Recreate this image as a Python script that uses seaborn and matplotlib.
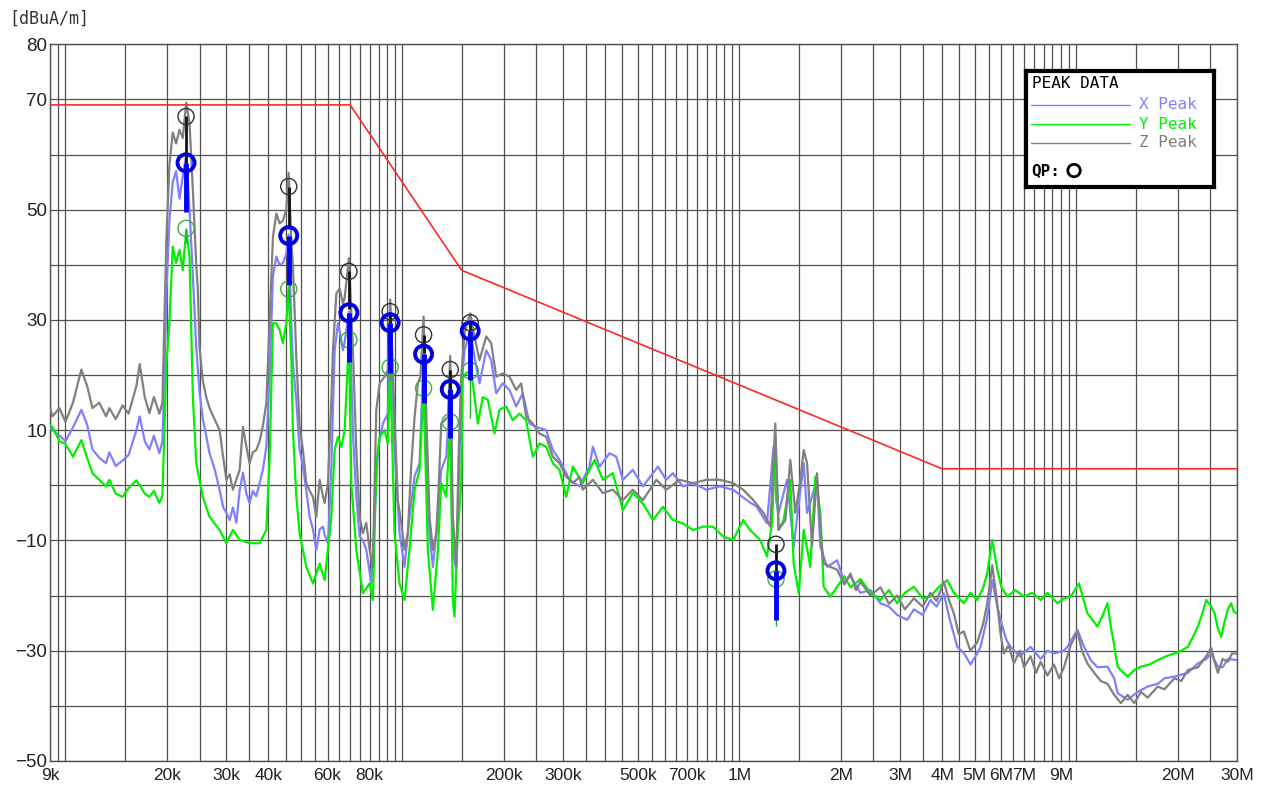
import matplotlib
matplotlib.use('Agg')
import matplotlib.pyplot as plt
import seaborn as sns
from matplotlib.ticker import FixedLocator, FixedFormatter, NullFormatter

# measured traces, (frequency kHz, level dBuA/m)
x_peak = [(9.0, 10.5), (9.15, 10.0), (9.6, 9.0), (10.0, 8.0), (10.53, 10.5), (11.15, 13.7), (11.6, 11), (12.03, 6.5),
          (12.6, 5), (13.2, 4.0), (13.5, 6), (14.1, 3.5), (14.78, 4.5), (15.4, 5.5), (16.24, 10), (16.61, 12.5),
          (17.2, 8), (17.75, 6.5), (18.3, 9), (19.01, 5.8), (19.4, 8), (19.67, 20), (19.94, 35), (20.35, 48),
          (20.82, 55), (21.3, 57), (21.8, 52), (22.3, 56), (22.83, 60), (23.35, 50), (23.89, 38), (24.45, 25),
          (25.0, 17), (25.57, 12), (26.17, 9), (26.77, 5.8), (27.7, 3), (28.68, -0.8), (29.4, -4), (30.04, -5),
          (30.72, -6.3), (31.42, -4), (32.15, -6.8), (32.89, -1), (33.64, 2.3), (34.44, -1.5), (35.2, -3.2),
          (36.0, -1), (36.85, -2), (37.7, 0.4), (38.6, 3), (39.47, 7), (40.37, 20), (41.29, 38), (42.26, 41.5),
          (43.22, 40), (44.2, 40.3), (45.24, 42), (45.96, 45.5), (46.81, 29.4), (47.33, 22), (48.44, 15.5),
          (49.55, 6.4), (50.69, 3.4), (51.88, -1), (53.07, -5.7), (54.28, -8), (55.55, -11.7), (56.82, -8),
          (58.12, -7.5), (58.8, -9), (60.14, -10.5), (61.55, 3.4), (62.95, 24.5), (64.39, 29.4), (65.14, 28),
          (66.63, 24.5), (67.4, 26), (69.4, 31.5), (70.55, 20), (71.33, 9.4), (72.99, -2), (74.66, -9.3),
          (76.36, -10), (78.15, -11.7), (80.88, -17.8), (82.72, -5.7), (84.61, 6.4), (87.55, 11.2), (90.55, 13),
          (92.05, 30), (94.8, 6.4), (98.1, -8.7), (101.5, -14.8), (105.0, -5.7), (108.7, 1.6), (112.5, 4),
          (115.6, 24), (119.0, -5.7), (123.2, -14.8), (127.5, -5.7), (130.4, 2.8), (135.0, 5.2), (138.7, 17.5),
          (141.2, -11.7), (144.5, -15.3), (147.0, 0.4), (149.5, 17.3), (152.9, 24.5), (159.0, 28), (163.7, 23.3),
          (169.4, 18.5), (177.4, 24.5), (183.5, 22.7), (189.9, 16.7), (198.6, 18.5), (207.9, 17.3), (217.7, 14.3),
          (227.7, 16.7), (238.4, 11.2), (249.5, 10.6), (267.2, 10), (279.6, 6.4), (292.7, 4.6), (313.4, 1),
          (335.6, -0.2), (359.3, 3.4), (367.5, 7), (384.8, 3.4), (412.0, 5.8), (431.3, 5.2), (451.2, 1),
          (483.1, 2.8), (517.5, -0.2), (573.6, 3.4), (606.8, 1), (635.0, 2.2), (680.2, -0.2), (728.6, 0.4),
          (798.9, -0.8), (875.3, -0.2), (958.9, -0.8), (1052, -2.7), (1127, -3.9), (1208, -6.9), (1264, 7),
          (1288, -3), (1308, -5), (1386, 1), (1450, -11.1), (1553, 4), (1589, -5), (1701, 1), (1740, -11.1),
          (1822, -14.8), (1951, -13.6), (2050, -17.5), (2138, -16.5), (2289, -19.5), (2450, -19), (2625, -21.4),
          (2780, -22), (2942, -23.5), (3151, -24.4), (3297, -22.5), (3500, -23.5), (3692, -20.8), (3850, -22),
          (4046, -19.6), (4200, -24), (4434, -29.3), (4650, -30.5), (4856, -32.5), (5084, -30.5), (5200, -29.3),
          (5444, -24), (5633, -17.2), (5830, -22), (5963, -24.4), (6200, -28), (6384, -29.3), (6800, -31),
          (7322, -29.3), (7843, -31.5), (8211, -30), (8589, -30.5), (9196, -30), (9412, -29.3), (10080, -26.2),
          (10500, -29), (11040, -31.7), (11560, -33), (12380, -32.9), (12960, -35), (13270, -37.7), (14210, -38.9),
          (15200, -37.5), (16300, -36.5), (17460, -36), (18270, -35), (19570, -34.7), (21450, -34), (22970, -32.3),
          (24310, -31.5), (25150, -30.5), (26330, -32.9), (27200, -33), (28190, -31.5), (30000, -31.7)]

y_peak = [(9.0, 11), (9.15, 10.6), (9.6, 8), (10.0, 7.5), (10.53, 5.2), (11.15, 8.2), (11.6, 5), (12.03, 2.2),
          (12.6, 1), (13.2, -0.2), (13.5, 1), (14.1, -1.5), (14.78, -2.1), (15.4, -0.5), (16.24, 0.9), (16.61, 0),
          (17.2, -1.5), (17.75, -2.1), (18.3, -1), (19.01, -3.2), (19.4, -2), (19.67, 10), (19.94, 22),
          (20.35, 29.4), (20.82, 43.3), (21.3, 40.3), (21.8, 42.7), (22.3, 39), (22.83, 46.3), (23.35, 41.5),
          (23.6, 29.4), (23.89, 16), (24.45, 4), (25.57, -2.1), (26.77, -5.7), (28.68, -8.1), (30.04, -10.5),
          (31.42, -8.1), (32.89, -9.9), (35.2, -10.5), (37.7, -10.5), (39.47, -8.1), (40.37, 5), (41.29, 29.4),
          (42.26, 29.4), (43.22, 28.2), (44.2, 25.8), (45.24, 29.4), (45.96, 36), (46.81, 23.3), (47.33, 10),
          (48.44, -2), (49.55, -8.7), (51.88, -14.8), (54.28, -17.8), (56.82, -14.2), (58.8, -17.2),
          (61.55, -5.7), (62.95, 6.4), (64.39, 8.8), (65.9, 7), (67.4, 10), (69.4, 26.4), (70.55, 0.4),
          (72.99, -11.7), (76.36, -19.6), (79.94, -17.8), (81.77, -20.8), (83.68, 3.4), (85.6, 8.8), (88.58, 10),
          (90.55, 7.6), (92.05, 21.4), (94.8, -8.7), (98.1, -17.8), (101.5, -20.8), (105.0, -11.7), (108.7, -0.8),
          (112.5, 2.8), (115.6, 17.6), (119.0, -11.7), (123.2, -22.6), (127.5, -11.7), (130.4, 0.4), (135.0, -2.1),
          (138.7, 11.5), (141.2, -20.8), (142.8, -23.8), (146.0, -8.7), (149.5, 0.4), (151.1, 19.7), (154.7, 20.3),
          (159.0, 20.8), (161.8, 18.5), (167.5, 11.2), (173.3, 16), (179.3, 15.5), (187.7, 9.4), (194.2, 13.7),
          (203.3, 14.3), (212.7, 11.8), (222.6, 13), (233.0, 11.8), (243.8, 5.2), (255.2, 7.6), (267.2, 7),
          (279.6, 4), (292.7, 2.8), (306.4, -2.1), (320.6, 3.4), (343.2, 0.4), (371.9, 4.6), (393.6, 1),
          (421.4, 2.2), (451.2, -4.5), (483.1, -1.4), (517.5, -3.3), (554.4, -6.3), (593.0, -3.9), (635.0, -6.3),
          (680.2, -6.9), (728.6, -8.1), (780.6, -7.5), (836.0, -7.5), (895.3, -9.3), (958.9, -9.9), (1027, -6.3),
          (1076, -8.1), (1153, -9.9), (1208, -12.9), (1251, -6.9), (1279, 8.8), (1308, -8.1), (1354, -6.3),
          (1417, 1), (1450, -14.2), (1501, -19.6), (1553, -8.1), (1625, -14.8), (1682, 1.6), (1740, -5),
          (1780, -18.4), (1864, -20.2), (1951, -18.4), (2050, -16.5), (2138, -18.5), (2289, -17), (2450, -19.5),
          (2625, -20.8), (2780, -19), (2942, -21.4), (3100, -19.5), (3297, -18.4), (3500, -20.5), (3692, -20.2),
          (3900, -18.5), (4141, -17.2), (4332, -19.5), (4638, -21.4), (4850, -19.5), (5084, -20.8), (5300, -18.5),
          (5444, -15.9), (5633, -9.9), (5830, -15.3), (6000, -18.5), (6241, -20.2), (6600, -19), (6994, -20.2),
          (7400, -19.5), (7843, -20.8), (8211, -19.5), (8791, -21.4), (9196, -20.5), (9627, -20.2), (10190, -17.8),
          (10790, -23.2), (11560, -25.6), (12000, -23.5), (12380, -21.4), (12670, -25.6), (12960, -29),
          (13270, -32.9), (13800, -34), (14210, -34.7), (14870, -33.5), (15570, -32.9), (16500, -32.5),
          (17460, -31.7), (18500, -31), (19570, -30.5), (20490, -30), (21450, -29.3), (22200, -27.5), (22970, -25.6),
          (23600, -23.5), (24310, -20.8), (25150, -22), (25730, -23.2), (26330, -26), (26930, -27.5), (27500, -25),
          (28190, -22.5), (28830, -21.4), (29400, -23), (30000, -23.2)]

z_peak = [(9.0, 14), (9.15, 12.5), (9.6, 14), (10.0, 11.5), (10.53, 15), (11.15, 21), (11.6, 18), (12.03, 14),
          (12.6, 15), (13.2, 12.5), (13.5, 14), (14.1, 12), (14.78, 14.5), (15.4, 13), (16.24, 18), (16.61, 22),
          (17.2, 16), (17.75, 13.1), (18.3, 16), (19.01, 13), (19.4, 15), (19.67, 30), (19.94, 45), (20.35, 58),
          (20.82, 64), (21.3, 62), (21.8, 64.5), (22.3, 63), (22.83, 69.4), (23.35, 65.7), (23.89, 53.6),
          (24.45, 40), (24.72, 35.4), (25.0, 25), (25.57, 19), (26.17, 16), (26.77, 14), (27.7, 12), (28.68, 10),
          (29.4, 5), (30.04, 1), (30.72, 2), (31.42, -0.8), (32.15, 1), (32.89, 2.8), (33.64, 10.6), (34.44, 7),
          (35.2, 4), (36.0, 6), (36.85, 6.4), (37.7, 8), (38.6, 11), (39.47, 14.9), (40.37, 30), (41.29, 45),
          (42.26, 49.3), (43.22, 47.5), (44.2, 48), (45.24, 50), (45.96, 56.7), (46.81, 44.5), (47.33, 40),
          (48.44, 23.3), (49.55, 10.6), (50.69, 6.4), (51.88, 0.4), (53.07, -1), (54.28, -2.1), (55.55, -5.7),
          (56.82, 1), (58.12, -2), (58.8, -3.2), (60.14, 0.4), (61.55, 15.5), (62.22, 24.5), (63.69, 34.8),
          (65.14, 35.7), (66.63, 33), (67.4, 34), (69.4, 41.2), (71.33, 24.5), (72.99, 6.4), (74.66, -5.7),
          (76.36, -8.7), (78.15, -6.8), (79.94, -11.7), (81.77, -14.8), (82.72, 0.4), (83.68, 13.7), (85.6, 18.5),
          (88.58, 19.7), (90.55, 20.9), (92.05, 33.7), (94.8, 12.4), (96.95, -2.7), (99.24, -6.8), (101.5, -11.7),
          (103.8, -8.7), (106.2, 3.4), (108.7, 12.4), (111.2, 18.5), (113.1, 19.7), (115.6, 30.6), (117.8, 12.4),
          (120.4, -5.7), (123.2, -11.7), (126.1, -8.7), (128.3, 0.4), (130.4, 11.2), (133.4, 11.8), (136.5, 12.4),
          (138.7, 23.5), (141.2, -5.7), (144.5, -14.8), (147.0, 6.4), (149.5, 19.7), (152.9, 27.6), (159.0, 31.2),
          (163.7, 27), (169.4, 22.7), (177.4, 27), (183.5, 25.8), (189.9, 19.7), (198.6, 20.3), (207.9, 19.7),
          (217.7, 17.3), (225.2, 18.5), (233.0, 12.4), (243.8, 11.2), (255.2, 9.4), (267.2, 8.8), (279.6, 5.2),
          (292.7, 4), (306.4, 1.6), (320.6, 0.4), (335.6, 1.5), (343.2, -0.8), (367.5, 1), (393.6, -1.4),
          (421.4, -0.8), (451.2, -2.7), (483.1, -0.8), (517.5, -2.7), (567.4, 1), (606.8, -0.8), (665.0, 1),
          (728.6, 0.4), (798.9, 1), (875.3, 1), (958.9, 0.4), (1027, -0.8), (1101, -2.7), (1180, -5), (1236, -7.5),
          (1279, 11.2), (1308, -8.1), (1370, -6.3), (1417, 4.6), (1467, -5), (1518, 1), (1553, 6.4), (1589, 4),
          (1644, -11.1), (1701, 2.2), (1740, -8.1), (1780, -14.2), (1864, -14.8), (1951, -15.3), (2050, -18),
          (2138, -16), (2220, -19), (2289, -17.5), (2450, -20), (2625, -18.5), (2780, -21.5), (2942, -20),
          (3100, -22.5), (3297, -20.5), (3500, -22), (3692, -19.5), (3850, -21), (4046, -17.5), (4200, -21),
          (4332, -23.2), (4480, -27), (4638, -26.5), (4850, -30), (5084, -28.5), (5300, -25), (5444, -21.4),
          (5633, -14.5), (5830, -21.4), (5963, -27), (6099, -30.5), (6300, -29), (6530, -32.3), (6800, -30),
          (7000, -33), (7322, -31), (7600, -34), (7843, -32), (8211, -34.5), (8589, -32.5), (8900, -35),
          (9196, -33), (9627, -29), (10080, -26.5), (10400, -30), (10790, -32.3), (11300, -34), (11830, -35.5),
          (12380, -36), (12960, -38), (13570, -39.5), (14210, -38), (14870, -39.5), (15570, -37.5), (16300, -38.5),
          (17460, -36.5), (18270, -37), (19570, -35), (20490, -35.5), (21450, -33.5), (22970, -33), (24310, -31),
          (25150, -29.5), (25730, -32), (26330, -34), (27200, -31.5), (28190, -32), (29000, -30.5), (30000, -30.5)]

# limit line
limit_freq = [9, 70, 150, 4000, 30000]
limit_level = [69, 69, 39, 3, 3]

# QP readings and the lower end of their bars
qp_freq = [22.8, 46.0, 69.4, 92.0, 115.6, 138.7, 159.0, 1285]
qp_x = [58.5, 45.3, 31.3, 29.5, 23.8, 17.4, 28.0, -15.5]
qp_y = [46.6, 35.6, 26.4, 21.4, 17.6, 11.5, 20.8, -17.0]
qp_z = [66.9, 54.2, 38.8, 31.5, 27.3, 21.0, 29.5, -10.7]
bar_x = [49.6, 36.3, 22.4, 20.3, 14.9, 8.5, 19.1, -24.4]
bar_y = [44.0, 33.0, 24.0, 19.0, 15.0, 9.5, 12.2, -25.6]
bar_z = [58.5, 46.5, 32.0, 29.5, 24.0, 17.4, 28.0, -15.5]

tick_freq = [9, 20, 30, 40, 60, 80, 200, 300, 500, 700, 1000, 2000, 3000, 4000, 5000, 6000, 7000, 9000, 20000, 30000]
tick_labels = ['9k', '20k', '30k', '40k', '60k', '80k', '200k', '300k', '500k', '700k',
               '1M', '2M', '3M', '4M', '5M', '6M', '7M', '9M', '20M', '30M']
y_ticks = [80, 70, 50, 30, 10, -10, -30, -50]

C_X, C_Y, C_Z = '#8080ff', '#00f000', '#808080'

sns.set_theme(style='white')
plt.rcParams['font.family'] = ['Liberation Sans Narrow', 'Liberation Sans', 'DejaVu Sans']

fig = plt.figure(figsize=(12.63, 7.99), dpi=100)
ax = fig.add_axes([0.0396, 0.0476, 0.9398, 0.8970])
ax.set_xscale('log')

for data, col in [(x_peak, C_X), (y_peak, C_Y), (z_peak, C_Z)]:
    f = [p[0] for p in data]
    v = [p[1] for p in data]
    sns.lineplot(x=f, y=v, ax=ax, color=col, lw=1.6, estimator=None, sort=False, zorder=3)

sns.lineplot(x=limit_freq, y=limit_level, ax=ax, color='#ff2828', lw=1.2, estimator=None, sort=False, zorder=4)

# QP bars and circles
ax.vlines(qp_freq, bar_y, qp_y, color='#22aa22', lw=1, zorder=5)
ax.scatter(qp_freq, qp_y, s=135, facecolors='none', edgecolors='#3cb03c', linewidths=1, zorder=5)
ax.vlines(qp_freq, bar_z, qp_z, color='#111111', lw=2, zorder=6)
ax.scatter(qp_freq, qp_z, s=135, facecolors='none', edgecolors='#303030', linewidths=1, zorder=6)
ax.vlines(qp_freq, bar_x, qp_x, color='#0000ff', lw=3.5, zorder=7)
ax.scatter(qp_freq, qp_x, s=150, facecolors='none', edgecolors='#0000e0', linewidths=2.8, zorder=7)

ax.set_xlim(9, 30000)
ax.set_ylim(-50, 80)
grid_freq = [m * 10 ** e / 10 for e in range(0, 5) for m in range(10, 100, 5)]
ax.xaxis.set_major_locator(FixedLocator(tick_freq))
ax.xaxis.set_major_formatter(FixedFormatter(tick_labels))
ax.xaxis.set_minor_locator(FixedLocator(grid_freq))
ax.xaxis.set_minor_formatter(NullFormatter())
ax.yaxis.set_major_locator(FixedLocator(y_ticks))
ax.yaxis.set_minor_locator(FixedLocator(list(range(-50, 81, 10))))
ax.yaxis.set_minor_formatter(NullFormatter())
ax.grid(which='both', color='#505050', lw=0.9, zorder=0)
ax.set_axisbelow(True)
ax.tick_params(which='both', length=0, colors='#222222')
ax.tick_params(axis='y', pad=2, labelsize=13.5)
ax.tick_params(axis='x', pad=5, labelsize=12.5)
for s in ax.spines.values():
    s.set_color('#505050')
    s.set_linewidth(1)
ax.set_xlabel('')
ax.set_ylabel('')

fig.text(0.007, 0.977, '[dBuA/m]', fontsize=12, family='DejaVu Sans Mono', color='#333333', va='center')

# legend box
lax = fig.add_axes([0.8124, 0.7663, 0.1489, 0.1448], zorder=10)
lax.set_xlim(0, 1)
lax.set_ylim(0, 1)
lax.set_xticks([])
lax.set_yticks([])
lax.set_facecolor('white')
for s in lax.spines.values():
    s.set_color('black')
    s.set_linewidth(3)
lax.text(0.03, 0.89, 'PEAK DATA', fontsize=11.5, family='DejaVu Sans Mono', va='center', color='black')
for yy, col, name in [(0.71, C_X, 'X Peak'), (0.54, C_Y, 'Y Peak'), (0.38, C_Z, 'Z Peak')]:
    lax.plot([0.027, 0.553], [yy, yy], color=col, lw=1)
    lax.text(0.60, yy, name, fontsize=11.5, family='DejaVu Sans Mono', va='center', color=col)
lax.text(0.03, 0.14, 'QP:', fontsize=11.5, family='DejaVu Sans Mono', va='center', color='black', weight='bold')
lax.scatter([0.255], [0.14], s=80, facecolors='none', edgecolors='black', linewidths=2)

fig.savefig('out.png', dpi=100)
